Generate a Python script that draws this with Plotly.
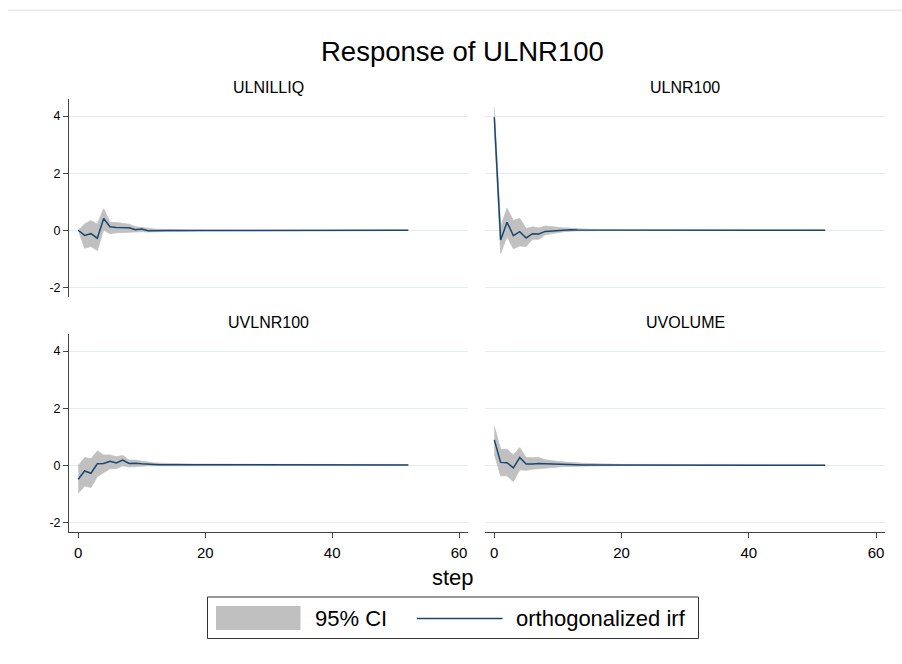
import plotly.graph_objects as go

# Canvas size in pixels
W, H = 902, 664

# Forecast horizon
steps = list(range(53))

# Impulse variables (one panel each)
impulses = ["ULNILLIQ", "ULNR100", "UVLNR100", "UVOLUME"]

# Response of ULNR100 to ULNILLIQ
irf_ulnilliq = [0.00, -0.18, -0.12, -0.28, 0.41, 0.12, 0.10, 0.10, 0.09, 0.02,
                0.04, -0.02, -0.01, -0.01, -0.01, -0.01, -0.01, -0.01, -0.01, -0.01,
                -0.01, -0.01, -0.01, -0.01, -0.01, -0.01, 0.00, 0.00, 0.00, 0.00,
                0.00, 0.00, 0.00, 0.00, 0.00, 0.00, 0.00, 0.00, 0.00, 0.00,
                0.00, 0.00, 0.00, 0.00, 0.00, 0.00, 0.00, 0.00, 0.00, 0.00,
                0.00, 0.00, 0.00]
hi_ulnilliq = [0.00, 0.22, 0.34, 0.21, 0.75, 0.28, 0.27, 0.25, 0.21, 0.12,
               0.09, 0.05, 0.04, 0.03, 0.02, 0.02, 0.01, 0.01, 0.01, 0.01,
               0.01, 0.01, 0.01, 0.01, 0.01, 0.01, 0.01, 0.01, 0.01, 0.01,
               0.01, 0.01, 0.01, 0.01, 0.01, 0.00, 0.00, 0.00, 0.00, 0.00,
               0.00, 0.00, 0.00, 0.00, 0.00, 0.00, 0.00, 0.00, 0.00, 0.00,
               0.00, 0.00, 0.00]
lo_ulnilliq = [0.00, -0.63, -0.57, -0.71, 0.01, -0.12, -0.09, -0.08, -0.06, -0.05,
               -0.05, -0.06, -0.05, -0.05, -0.04, -0.04, -0.04, -0.03, -0.03, -0.03,
               -0.02, -0.02, -0.02, -0.02, -0.02, -0.02, -0.02, -0.01, -0.01, -0.01,
               -0.01, -0.01, -0.01, -0.01, -0.01, -0.01, -0.01, -0.01, -0.01, -0.01,
               -0.01, -0.01, -0.01, -0.01, -0.01, 0.00, 0.00, 0.00, 0.00, 0.00,
               0.00, 0.00, 0.00]

# Response of ULNR100 to its own shock
irf_ulnr100 = [3.96, -0.34, 0.28, -0.19, -0.05, -0.27, -0.12, -0.13, -0.04, -0.02,
               0.00, 0.01, 0.02, 0.01, 0.01, 0.01, 0.00, 0.00, 0.00, 0.00,
               0.00, 0.00, 0.00, 0.00, 0.00, 0.00, 0.00, 0.00, 0.00, 0.00,
               0.00, 0.00, 0.00, 0.00, 0.00, 0.00, 0.00, 0.00, 0.00, 0.00,
               0.00, 0.00, 0.00, 0.00, 0.00, 0.00, 0.00, 0.00, 0.00, 0.00,
               0.00, 0.00, 0.00]
hi_ulnr100 = [4.30, 0.13, 0.77, 0.34, 0.42, 0.06, 0.12, 0.08, 0.15, 0.12,
              0.10, 0.08, 0.07, 0.05, 0.04, 0.03, 0.02, 0.02, 0.01, 0.01,
              0.01, 0.01, 0.01, 0.01, 0.01, 0.00, 0.00, 0.00, 0.00, 0.00,
              0.00, 0.00, 0.00, 0.00, 0.00, 0.00, 0.00, 0.00, 0.00, 0.00,
              0.00, 0.00, 0.00, 0.00, 0.00, 0.00, 0.00, 0.00, 0.00, 0.00,
              0.00, 0.00, 0.00]
lo_ulnr100 = [3.62, -0.81, -0.22, -0.65, -0.55, -0.57, -0.32, -0.32, -0.16, -0.11,
              -0.08, -0.05, -0.03, -0.02, -0.02, -0.01, -0.01, -0.01, -0.01, -0.01,
              -0.01, -0.01, -0.01, -0.01, -0.01, 0.00, 0.00, 0.00, 0.00, 0.00,
              0.00, 0.00, 0.00, 0.00, 0.00, 0.00, 0.00, 0.00, 0.00, 0.00,
              0.00, 0.00, 0.00, 0.00, 0.00, 0.00, 0.00, 0.00, 0.00, 0.00,
              0.00, 0.00, 0.00]

# Response of ULNR100 to UVLNR100
irf_uvlnr100 = [-0.49, -0.20, -0.28, 0.05, 0.06, 0.14, 0.08, 0.18, 0.06, 0.07,
                0.05, 0.03, 0.03, 0.02, 0.02, 0.02, 0.02, 0.02, 0.02, 0.02,
                0.02, 0.02, 0.02, 0.02, 0.02, 0.02, 0.02, 0.02, 0.01, 0.01,
                0.01, 0.01, 0.01, 0.01, 0.01, 0.01, 0.01, 0.01, 0.01, 0.01,
                0.01, 0.01, 0.01, 0.01, 0.01, 0.01, 0.01, 0.01, 0.01, 0.01,
                0.01, 0.01, 0.01]
hi_uvlnr100 = [-0.01, 0.27, 0.23, 0.50, 0.36, 0.36, 0.30, 0.34, 0.18, 0.18,
               0.14, 0.10, 0.08, 0.07, 0.06, 0.05, 0.05, 0.04, 0.04, 0.04,
               0.04, 0.04, 0.04, 0.04, 0.04, 0.04, 0.04, 0.03, 0.03, 0.03,
               0.03, 0.03, 0.03, 0.02, 0.02, 0.02, 0.02, 0.02, 0.02, 0.02,
               0.02, 0.02, 0.02, 0.02, 0.02, 0.01, 0.01, 0.01, 0.01, 0.01,
               0.01, 0.01, 0.01]
lo_uvlnr100 = [-0.98, -0.73, -0.78, -0.40, -0.26, -0.12, -0.12, -0.02, -0.06, -0.04,
               -0.03, -0.02, -0.02, -0.02, -0.01, -0.01, -0.01, -0.01, 0.00, 0.00,
               0.00, 0.00, 0.00, 0.00, 0.00, 0.00, 0.00, 0.00, 0.00, 0.00,
               0.00, 0.00, 0.00, 0.00, 0.00, 0.00, 0.00, 0.00, 0.00, 0.00,
               0.00, 0.00, 0.00, 0.00, 0.00, 0.00, 0.00, 0.00, 0.00, 0.00,
               0.00, 0.00, 0.00]

# Response of ULNR100 to UVOLUME
irf_uvolume = [0.89, 0.10, 0.09, -0.09, 0.27, 0.04, 0.04, 0.06, 0.05, 0.04,
               0.03, 0.03, 0.02, 0.02, 0.01, 0.01, 0.01, 0.01, 0.01, 0.01,
               0.00, 0.00, 0.00, 0.00, 0.00, 0.00, 0.00, 0.00, 0.00, 0.00,
               0.00, 0.00, 0.00, 0.00, 0.00, 0.00, 0.00, 0.00, 0.00, 0.00,
               0.00, 0.00, 0.00, 0.00, 0.00, 0.00, 0.00, 0.00, 0.00, 0.00,
               0.00, 0.00, 0.00]
hi_uvolume = [1.36, 0.56, 0.56, 0.36, 0.62, 0.27, 0.26, 0.27, 0.19, 0.15,
              0.13, 0.11, 0.09, 0.08, 0.07, 0.06, 0.05, 0.04, 0.04, 0.03,
              0.03, 0.02, 0.02, 0.02, 0.01, 0.01, 0.01, 0.01, 0.01, 0.01,
              0.01, 0.01, 0.01, 0.01, 0.01, 0.00, 0.00, 0.00, 0.00, 0.00,
              0.00, 0.00, 0.00, 0.00, 0.00, 0.00, 0.00, 0.00, 0.00, 0.00,
              0.00, 0.00, 0.00]
lo_uvolume = [0.39, -0.37, -0.37, -0.57, -0.16, -0.18, -0.14, -0.12, -0.09, -0.06,
              -0.05, -0.04, -0.04, -0.03, -0.03, -0.02, -0.02, -0.02, -0.01, -0.01,
              -0.01, -0.01, -0.01, -0.01, -0.01, 0.00, 0.00, 0.00, 0.00, 0.00,
              0.00, 0.00, 0.00, 0.00, 0.00, 0.00, 0.00, 0.00, 0.00, 0.00,
              0.00, 0.00, 0.00, 0.00, 0.00, 0.00, 0.00, 0.00, 0.00, 0.00,
              0.00, 0.00, 0.00]

y_ticks = [-2, 0, 2, 4]
y_tick_text = ["-2", "0", "2", "4"]
x_ticks = [0, 20, 40, 60]
x_tick_text = ["0", "20", "40", "60"]

panels = [
    (irf_ulnilliq, hi_ulnilliq, lo_ulnilliq),
    (irf_ulnr100, hi_ulnr100, lo_ulnr100),
    (irf_uvlnr100, hi_uvlnr100, lo_uvlnr100),
    (irf_uvolume, hi_uvolume, lo_uvolume),
]

FONT = "Liberation Sans, Arial, Helvetica, sans-serif"
NAVY = "#1a476f"
CI_GRAY = "#c0c0c0"
GRID = "#e3ecef"
AXIS = "#454545"


def fx(px):
    return px / W


def fy(py):
    return 1 - py / H


# Panel rectangles in pixels: (left, right, top, bottom)
col_x = [(69, 468), (485, 885)]
row_y = [(99, 297), (334, 532)]

fig = go.Figure()

for i, (irf, hi, lo) in enumerate(panels):
    sfx = "" if i == 0 else str(i + 1)
    xa, ya = "x" + sfx, "y" + sfx
    fig.add_trace(go.Scatter(x=steps, y=hi, mode="lines",
                             line=dict(color=CI_GRAY, width=0.8),
                             name="95% CI", showlegend=False, hoverinfo="skip",
                             xaxis=xa, yaxis=ya))
    fig.add_trace(go.Scatter(x=steps, y=lo, mode="lines",
                             line=dict(color=CI_GRAY, width=0.8),
                             fill="tonexty", fillcolor=CI_GRAY,
                             name="95% CI", showlegend=False,
                             xaxis=xa, yaxis=ya))
    fig.add_trace(go.Scatter(x=steps, y=irf, mode="lines",
                             line=dict(color=NAVY, width=1.5),
                             name="orthogonalized irf", showlegend=False,
                             xaxis=xa, yaxis=ya))

layout = {}
for i in range(4):
    r, c = divmod(i, 2)
    sfx = "" if i == 0 else str(i + 1)
    x0, x1 = col_x[c]
    y0, y1 = row_y[r]
    xaxis = dict(domain=[fx(x0), fx(x1)], range=[-1.46, 61.4],
                 anchor="y" + sfx, showgrid=False, zeroline=False,
                 fixedrange=True)
    if r == 1:
        xaxis.update(showline=True, linecolor=AXIS, linewidth=1,
                     ticks="outside", ticklen=5, tickcolor=AXIS, tickwidth=1,
                     tickvals=x_ticks, ticktext=x_tick_text,
                     tickfont=dict(family=FONT, size=15, color="#000"),
                     ticklabelstandoff=2)
    else:
        xaxis.update(showline=False, ticks="", showticklabels=False)
    yaxis = dict(domain=[fy(y1), fy(y0)], range=[-2.34, 4.6],
                 anchor="x" + sfx, showgrid=True, gridcolor=GRID, gridwidth=1,
                 zeroline=False, tickvals=y_ticks, ticktext=y_tick_text,
                 fixedrange=True)
    if c == 0:
        yaxis.update(showline=True, linecolor=AXIS, linewidth=1,
                     ticks="outside", ticklen=5, tickcolor=AXIS, tickwidth=1,
                     tickfont=dict(family=FONT, size=12.5, color="#000"),
                     ticklabelstandoff=0)
    else:
        yaxis.update(showline=False, ticks="", showticklabels=False)
    layout["xaxis" + sfx] = xaxis
    layout["yaxis" + sfx] = yaxis

annotations = [
    dict(text="Response of ULNR100", x=fx(462.5), y=fy(52), xref="paper",
         yref="paper", xanchor="center", yanchor="middle", showarrow=False,
         font=dict(family=FONT, size=27.5, color="#000")),
    dict(text="step", x=fx(453), y=fy(577), xref="paper", yref="paper",
         xanchor="center", yanchor="middle", showarrow=False,
         font=dict(family=FONT, size=22, color="#000")),
]
for i, name in enumerate(impulses):
    r, c = divmod(i, 2)
    x0, x1 = col_x[c]
    top = row_y[r][0]
    annotations.append(dict(text=name, x=fx((x0 + x1) / 2), y=fy(top - 11.5),
                            xref="paper", yref="paper", xanchor="center",
                            yanchor="middle", showarrow=False,
                            font=dict(family=FONT, size=16, color="#000")))

# Legend entries
annotations.append(dict(text="95% CI", x=fx(313), y=fy(618.5), xref="paper",
                        yref="paper", xanchor="left", yanchor="middle",
                        showarrow=False,
                        font=dict(family=FONT, size=22, color="#000")))
annotations.append(dict(text="orthogonalized irf", x=fx(514), y=fy(618.5),
                        xref="paper", yref="paper", xanchor="left",
                        yanchor="middle", showarrow=False,
                        font=dict(family=FONT, size=22, color="#000")))

shapes = [
    # outer graph region edge
    dict(type="line", xref="paper", yref="paper", x0=fx(8), x1=fx(902),
         y0=fy(10.3), y1=fy(10.3), line=dict(color="#e6eded", width=1.5)),
    # legend frame
    dict(type="rect", xref="paper", yref="paper", x0=fx(207.5), x1=fx(698.5),
         y0=fy(638.5), y1=fy(597), line=dict(color="#333333", width=1),
         fillcolor="rgba(0,0,0,0)"),
    # legend key: CI band
    dict(type="rect", xref="paper", yref="paper", x0=fx(216), x1=fx(300.5),
         y0=fy(630), y1=fy(606), line=dict(width=0), fillcolor=CI_GRAY),
    # legend key: irf line
    dict(type="line", xref="paper", yref="paper", x0=fx(417), x1=fx(502.5),
         y0=fy(618.5), y1=fy(618.5), line=dict(color=NAVY, width=1.5)),
]

fig.update_layout(
    width=W, height=H,
    margin=dict(l=0, r=0, t=0, b=0),
    paper_bgcolor="white", plot_bgcolor="white",
    showlegend=False,
    font=dict(family=FONT, color="#000"),
    annotations=annotations,
    shapes=shapes,
    **layout,
)

fig.write_html("out.html")
